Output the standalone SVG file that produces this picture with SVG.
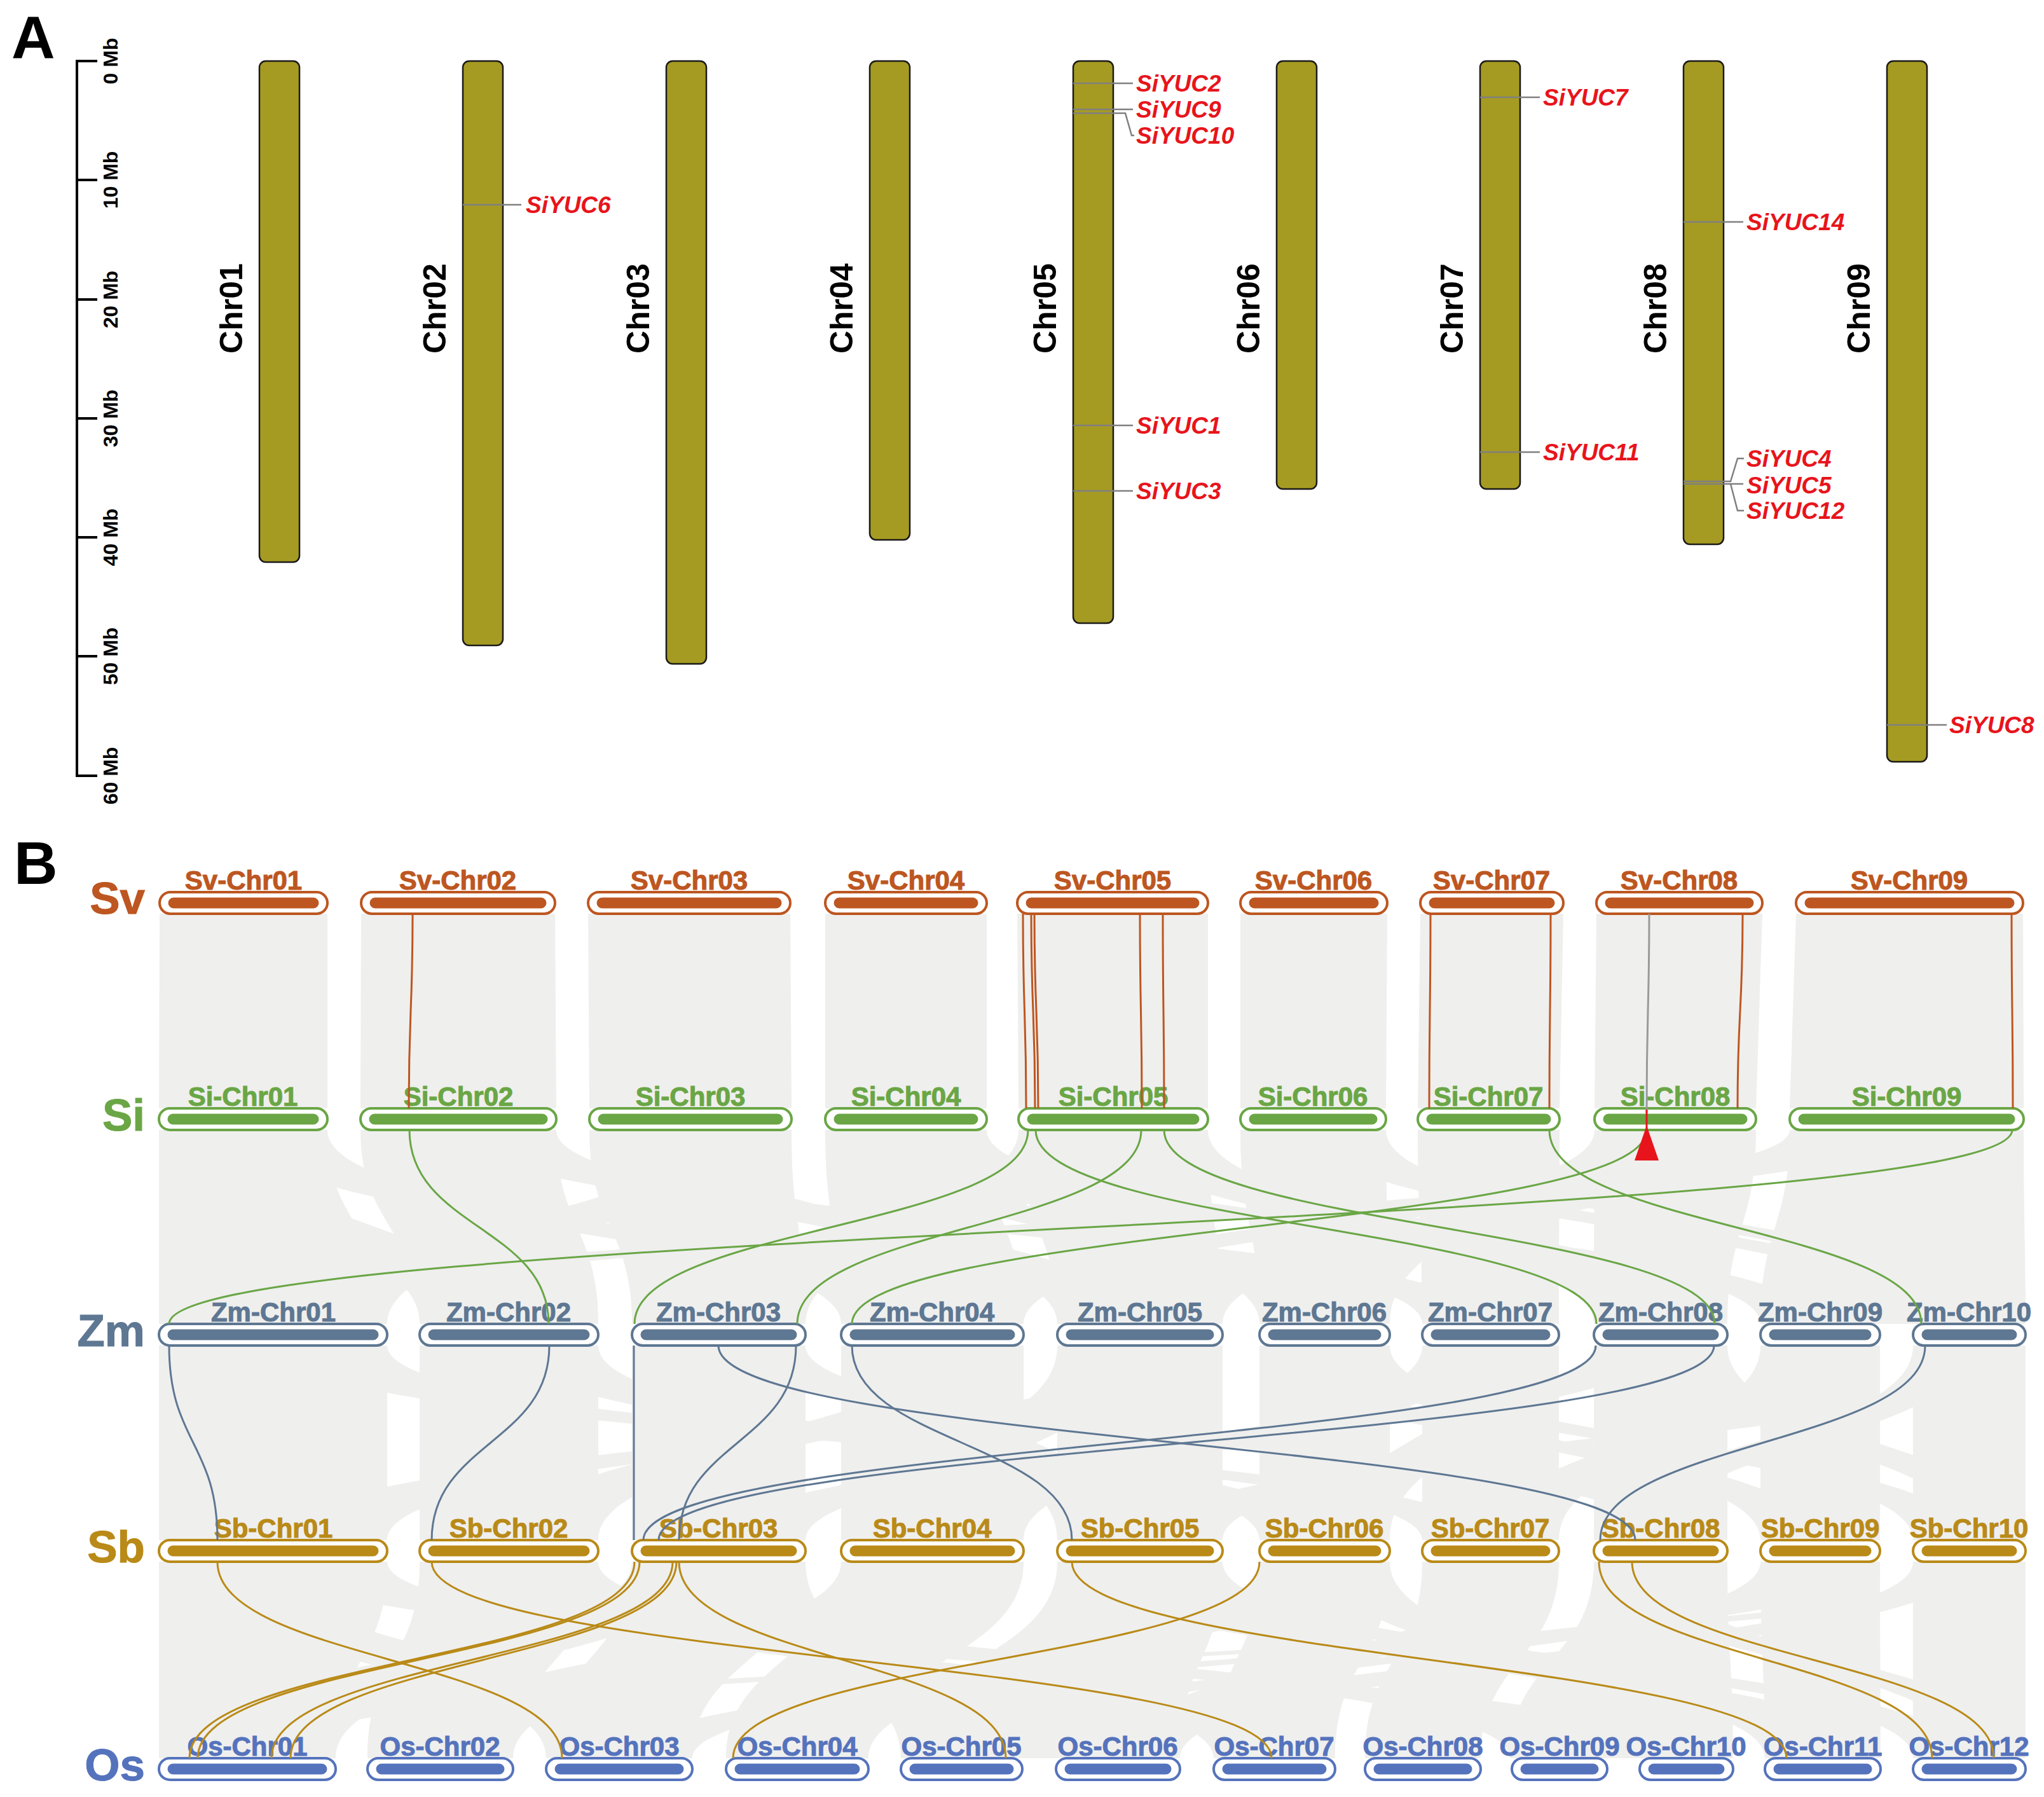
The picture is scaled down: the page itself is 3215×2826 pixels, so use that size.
<svg xmlns="http://www.w3.org/2000/svg" width="3215" height="2826" viewBox="0 0 3215 2826">
<style>
text{font-family:"Liberation Sans",Arial,sans-serif;font-weight:bold}
.panel{font-size:95px;fill:#000}
.mb{font-size:32px;fill:#000}
.chrlab{font-size:50px;fill:#000}
.chrA{fill:#A69B22;stroke:#1a1a1a;stroke-width:2.5}
.gl{stroke:#7f7f7f;stroke-width:2.5;fill:none}
.gene{font-size:37px;font-style:italic;fill:#E8141B}
.axis{stroke:#000;stroke-width:4;fill:none}
.rib{fill:#EFEFEE;stroke:none}
.row{font-size:71px}
.cl{font-size:42px;text-anchor:middle}
.cap{fill:#fff;stroke-width:4}
.ln{fill:none;stroke-width:3}
.sv{fill:#BD5620;stroke:#BD5620}
.si{fill:#6AA645;stroke:#6AA645}
.zm{fill:#5E7792;stroke:#5E7792}
.sb{fill:#B98A17;stroke:#B98A17}
.os{fill:#5573BC;stroke:#5573BC}
.lsv{stroke:#BD5620}.lsi{stroke:#6AA645}.lzm{stroke:#5E7792}.lsb{stroke:#B98A17}
</style>
<rect width="3215" height="2826" fill="#fff"/>

<!-- Panel A -->
<text class="panel" x="18" y="92">A</text>
<g id="scale">
<path class="axis" d="M153 96 H121 V1220 H153 M121 283 H153 M121 471 H153 M121 658 H153 M121 845 H153 M121 1032 H153"/>
<text class="mb" text-anchor="middle" transform="rotate(-90 185 96)" x="185" y="96">0 Mb</text>
<text class="mb" text-anchor="middle" transform="rotate(-90 185 283)" x="185" y="283">10 Mb</text>
<text class="mb" text-anchor="middle" transform="rotate(-90 185 471)" x="185" y="471">20 Mb</text>
<text class="mb" text-anchor="middle" transform="rotate(-90 185 658)" x="185" y="658">30 Mb</text>
<text class="mb" text-anchor="middle" transform="rotate(-90 185 845)" x="185" y="845">40 Mb</text>
<text class="mb" text-anchor="middle" transform="rotate(-90 185 1032)" x="185" y="1032">50 Mb</text>
<text class="mb" text-anchor="middle" transform="rotate(-90 185 1220)" x="185" y="1220">60 Mb</text>
</g>
<g id="A-Chr01"><rect class="chrA" x="408" y="96" width="63" height="788" rx="10"/><text class="chrlab" text-anchor="middle" transform="rotate(-90 381 485)" x="381" y="485">Chr01</text></g>
<g id="A-Chr02"><rect class="chrA" x="728" y="96" width="63" height="919" rx="10"/><text class="chrlab" text-anchor="middle" transform="rotate(-90 701 485)" x="701" y="485">Chr02</text>
<path class="gl" d="M728 322 H820"/><text class="gene" x="827" y="335">SiYUC6</text></g>
<g id="A-Chr03"><rect class="chrA" x="1048" y="96" width="63" height="948" rx="10"/><text class="chrlab" text-anchor="middle" transform="rotate(-90 1021 485)" x="1021" y="485">Chr03</text></g>
<g id="A-Chr04"><rect class="chrA" x="1368" y="96" width="63" height="753" rx="10"/><text class="chrlab" text-anchor="middle" transform="rotate(-90 1341 485)" x="1341" y="485">Chr04</text></g>
<g id="A-Chr05"><rect class="chrA" x="1688" y="96" width="63" height="884" rx="10"/><text class="chrlab" text-anchor="middle" transform="rotate(-90 1661 485)" x="1661" y="485">Chr05</text>
<path class="gl" d="M1688 131 H1782 M1688 172 H1782 M1688 178 H1770 L1780 213 H1784 M1688 669 H1782 M1688 772 H1782"/>
<text class="gene" x="1787" y="144">SiYUC2</text>
<text class="gene" x="1787" y="185">SiYUC9</text>
<text class="gene" x="1787" y="226">SiYUC10</text>
<text class="gene" x="1787" y="682">SiYUC1</text>
<text class="gene" x="1787" y="785">SiYUC3</text></g>
<g id="A-Chr06"><rect class="chrA" x="2008" y="96" width="63" height="673" rx="10"/><text class="chrlab" text-anchor="middle" transform="rotate(-90 1981 485)" x="1981" y="485">Chr06</text></g>
<g id="A-Chr07"><rect class="chrA" x="2328" y="96" width="63" height="673" rx="10"/><text class="chrlab" text-anchor="middle" transform="rotate(-90 2301 485)" x="2301" y="485">Chr07</text>
<path class="gl" d="M2328 153 H2422 M2328 711 H2422"/>
<text class="gene" x="2427" y="166">SiYUC7</text>
<text class="gene" x="2427" y="724">SiYUC11</text></g>
<g id="A-Chr08"><rect class="chrA" x="2648" y="96" width="63" height="760" rx="10"/><text class="chrlab" text-anchor="middle" transform="rotate(-90 2621 485)" x="2621" y="485">Chr08</text>
<path class="gl" d="M2648 349 H2742 M2648 757 H2722 L2733 721 H2743 M2648 761 H2742 M2722 761 L2733 803 H2743"/>
<text class="gene" x="2747" y="362">SiYUC14</text>
<text class="gene" x="2747" y="734">SiYUC4</text>
<text class="gene" x="2747" y="776">SiYUC5</text>
<text class="gene" x="2747" y="816">SiYUC12</text></g>
<g id="A-Chr09"><rect class="chrA" x="2968" y="96" width="63" height="1102" rx="10"/><text class="chrlab" text-anchor="middle" transform="rotate(-90 2941 485)" x="2941" y="485">Chr09</text>
<path class="gl" d="M2968 1140 H3062"/><text class="gene" x="3066" y="1153">SiYUC8</text></g>

<!-- Panel B -->
<text class="panel" x="22" y="1390">B</text>

<g id="ribbons">
<!-- Sv-Si -->
<path class="rib" d="M251 1437 H515 L515 1743 H250 Z M568 1437 H873 L875 1743 H567 Z M925 1437 H1243 L1245 1743 H927 Z M1298 1437 H1552 V1743 H1298 Z M1600 1437 H1900 V1743 H1602 Z M1951 1437 H2182 L2180 1743 H1951 Z M2234 1437 H2459 L2453 1743 H2230 Z M2511 1437 H2772 L2762 1743 H2508 Z M2825 1437 H3182 L3183 1743 H2815 Z"/>
<!-- Si-Zm columns -->
<path class="rib" d="M250 1777 L515 1777 C515 1930 609 1930 609 2082 L250 2082 C250 1930 250 1930 250 1777Z"/>
<path class="rib" d="M567 1777 L875 1777 C875 1930 941 1930 941 2082 L660 2082 C660 1930 567 1930 567 1777Z"/>
<path class="rib" d="M927 1777 L1245 1777 C1245 1930 1267 1930 1267 2082 L994 2082 C994 1930 927 1930 927 1777Z"/>
<path class="rib" d="M1298 1777 L1552 1777 C1552 1930 1610 1930 1610 2082 L1323 2082 C1323 1930 1298 1930 1298 1777Z"/>
<path class="rib" d="M1602 1777 L1900 1777 C1900 1930 1923 1930 1923 2082 L1663 2082 C1663 1930 1602 1930 1602 1777Z"/>
<path class="rib" d="M1951 1777 L2180 1777 C2180 1930 2186 1930 2186 2082 L1981 2082 C1981 1930 1951 1930 1951 1777Z"/>
<path class="rib" d="M2230 1777 L2453 1777 C2453 1930 2452 1930 2452 2082 L2237 2082 C2237 1930 2230 1930 2230 1777Z"/>
<path class="rib" d="M2508 1777 L2762 1777 C2762 1930 2717 1930 2717 2082 L2507 2082 C2507 1930 2508 1930 2508 1777Z"/>
<path class="rib" d="M2815 1777 L3183 1777 C3183 1930 3186 1930 3186 2082 L2769 2082 C2769 1930 2815 1930 2815 1777Z"/>
<!-- Si-Zm crossing -->
<path class="rib" d="M250 1777 L382 1777 C382 1930 800 1930 800 2082 L660 2082 C660 1930 250 1930 250 1777Z"/>
<path class="rib" d="M382 1777 L515 1777 C515 1930 1466 1930 1466 2082 L1323 2082 C1323 1930 382 1930 382 1777Z"/>
<path class="rib" d="M721 1777 L875 1777 C875 1930 2344 1930 2344 2082 L2237 2082 C2237 1930 721 1930 721 1777Z"/>
<path class="rib" d="M927 1777 L1086 1777 C1086 1930 1793 1930 1793 2082 L1663 2082 C1663 1930 927 1930 927 1777Z"/>
<path class="rib" d="M1086 1777 L1245 1777 C1245 1930 609 1930 609 2082 L430 2082 C430 1930 1086 1930 1086 1777Z"/>
<path class="rib" d="M1298 1777 L1425 1777 C1425 1930 2083 1930 2083 2082 L1981 2082 C1981 1930 1298 1930 1298 1777Z"/>
<path class="rib" d="M1425 1777 L1552 1777 C1552 1930 2863 1930 2863 2082 L2769 2082 C2769 1930 1425 1930 1425 1777Z"/>
<path class="rib" d="M1602 1777 L1751 1777 C1751 1930 1267 1930 1267 2082 L994 2082 C994 1930 1602 1930 1602 1777Z"/>
<path class="rib" d="M1751 1777 L1900 1777 C1900 1930 2717 1930 2717 2082 L2507 2082 C2507 1930 1751 1930 1751 1777Z"/>
<path class="rib" d="M1951 1777 L2065 1777 C2065 1930 2452 1930 2452 2082 L2344 2082 C2344 1930 1951 1930 1951 1777Z"/>
<path class="rib" d="M2065 1777 L2180 1777 C2180 1930 3097 1930 3097 2082 L3009 2082 C3009 1930 2065 1930 2065 1777Z"/>
<path class="rib" d="M2230 1777 L2341 1777 C2341 1930 3186 1930 3186 2082 L3097 2082 C3097 1930 2230 1930 2230 1777Z"/>
<path class="rib" d="M2341 1777 L2453 1777 C2453 1930 2186 1930 2186 2082 L2083 2082 C2083 1930 2341 1930 2341 1777Z"/>
<path class="rib" d="M2508 1777 L2635 1777 C2635 1930 1610 1930 1610 2082 L1466 2082 C1466 1930 2508 1930 2508 1777Z"/>
<path class="rib" d="M2635 1777 L2762 1777 C2762 1930 1923 1930 1923 2082 L1793 2082 C1793 1930 2635 1930 2635 1777Z"/>
<path class="rib" d="M2815 1777 L2999 1777 C2999 1930 430 1930 430 2082 L250 2082 C250 1930 2815 1930 2815 1777Z"/>
<!-- Zm-Sb columns -->
<path class="rib" d="M250 2116 H609 V2422 H250 Z M660 2116 H941 V2422 H660 Z M994 2116 H1267 V2422 H994 Z M1323 2116 H1610 V2422 H1323 Z M1663 2116 H1923 V2422 H1663 Z M1981 2116 H2186 V2422 H1981 Z M2237 2116 H2452 V2422 H2237 Z M2507 2116 H2717 V2422 H2507 Z M2769 2116 H2957 V2422 H2769 Z M3009 2116 H3186 V2422 H3009 Z"/>
<!-- Zm-Sb crossing -->
<path class="rib" d="M430 2116 L609 2116 C609 2269 2344 2269 2344 2422 L2237 2422 C2237 2269 430 2269 430 2116Z"/>
<path class="rib" d="M800 2116 L941 2116 C941 2269 2083 2269 2083 2422 L1981 2422 C1981 2269 800 2269 800 2116Z"/>
<path class="rib" d="M1130 2116 L1267 2116 C1267 2269 2717 2269 2717 2422 L2612 2422 C2612 2269 1130 2269 1130 2116Z"/>
<path class="rib" d="M1323 2116 L1466 2116 C1466 2269 1793 2269 1793 2422 L1663 2422 C1663 2269 1323 2269 1323 2116Z"/>
<path class="rib" d="M1466 2116 L1610 2116 C1610 2269 941 2269 941 2422 L800 2422 C800 2269 1466 2269 1466 2116Z"/>
<path class="rib" d="M1663 2116 L1793 2116 C1793 2269 1466 2269 1466 2422 L1323 2422 C1323 2269 1663 2269 1663 2116Z"/>
<path class="rib" d="M1793 2116 L1923 2116 C1923 2269 609 2269 609 2422 L430 2422 C430 2269 1793 2269 1793 2116Z"/>
<path class="rib" d="M1981 2116 L2083 2116 C2083 2269 2863 2269 2863 2422 L2769 2422 C2769 2269 1981 2269 1981 2116Z"/>
<path class="rib" d="M2083 2116 L2186 2116 C2186 2269 3097 2269 3097 2422 L3009 2422 C3009 2269 2083 2269 2083 2116Z"/>
<path class="rib" d="M2237 2116 L2344 2116 C2344 2269 1610 2269 1610 2422 L1466 2422 C1466 2269 2237 2269 2237 2116Z"/>
<path class="rib" d="M2344 2116 L2452 2116 C2452 2269 2186 2269 2186 2422 L2083 2422 C2083 2269 2344 2269 2344 2116Z"/>
<path class="rib" d="M2507 2116 L2612 2116 C2612 2269 1267 2269 1267 2422 L1130 2422 C1130 2269 2507 2269 2507 2116Z"/>
<path class="rib" d="M2612 2116 L2717 2116 C2717 2269 3186 2269 3186 2422 L3097 2422 C3097 2269 2612 2269 2612 2116Z"/>
<path class="rib" d="M2769 2116 L2863 2116 C2863 2269 2452 2269 2452 2422 L2344 2422 C2344 2269 2769 2269 2769 2116Z"/>
<path class="rib" d="M3009 2116 L3097 2116 C3097 2269 2612 2269 2612 2422 L2507 2422 C2507 2269 3009 2269 3009 2116Z"/>
<path class="rib" d="M3097 2116 L3186 2116 C3186 2269 1923 2269 1923 2422 L1793 2422 C1793 2269 3097 2269 3097 2116Z"/>
<!-- Sb-Os columns -->
<path class="rib" d="M250 2456 L609 2456 C609 2610 528 2610 528 2765 L250 2765 Z"/>
<path class="rib" d="M660 2456 L941 2456 C941 2610 807 2610 807 2765 L578 2765 C578 2610 660 2610 660 2456Z"/>
<path class="rib" d="M994 2456 L1267 2456 C1267 2610 1089 2610 1089 2765 L859 2765 C859 2610 994 2610 994 2456Z"/>
<path class="rib" d="M1323 2456 L1610 2456 C1610 2610 1366 2610 1366 2765 L1142 2765 C1142 2610 1323 2610 1323 2456Z"/>
<path class="rib" d="M1663 2456 L1923 2456 C1923 2610 1856 2610 1856 2765 L1417 2765 C1417 2610 1663 2610 1663 2456Z"/>
<path class="rib" d="M1981 2456 L2186 2456 C2186 2610 2100 2610 2100 2765 L1909 2765 C1909 2610 1981 2610 1981 2456Z"/>
<path class="rib" d="M2237 2456 L2452 2456 C2452 2610 2329 2610 2329 2765 L2147 2765 C2147 2610 2237 2610 2237 2456Z"/>
<path class="rib" d="M2507 2456 L2717 2456 C2717 2610 2726 2610 2726 2765 L2375 2765 C2375 2610 2507 2610 2507 2456Z"/>
<path class="rib" d="M2769 2456 L2957 2456 C2957 2610 2958 2610 2958 2765 L2776 2765 C2776 2610 2769 2610 2769 2456Z"/>
<path class="rib" d="M3009 2456 L3186 2456 L3186 2765 L3009 2765 Z"/>
<!-- Sb-Os crossing -->
<path class="rib" d="M250 2456 L430 2456 C430 2610 1089 2610 1089 2765 L859 2765 C859 2610 250 2610 250 2456Z"/>
<path class="rib" d="M430 2456 L609 2456 C609 2610 2651 2610 2651 2765 L2577 2765 C2577 2610 430 2610 430 2456Z"/>
<path class="rib" d="M660 2456 L800 2456 C800 2610 2100 2610 2100 2765 L1909 2765 C1909 2610 660 2610 660 2456Z"/>
<path class="rib" d="M800 2456 L941 2456 C941 2610 2530 2610 2530 2765 L2375 2765 C2375 2610 800 2610 800 2456Z"/>
<path class="rib" d="M994 2456 L1130 2456 C1130 2610 528 2610 528 2765 L250 2765 C250 2610 994 2610 994 2456Z"/>
<path class="rib" d="M1130 2456 L1267 2456 C1267 2610 1512 2610 1512 2765 L1417 2765 C1417 2610 1130 2610 1130 2456Z"/>
<path class="rib" d="M1323 2456 L1466 2456 C1466 2610 807 2610 807 2765 L578 2765 C578 2610 1323 2610 1323 2456Z"/>
<path class="rib" d="M1663 2456 L1793 2456 C1793 2610 2958 2610 2958 2765 L2776 2765 C2776 2610 1663 2610 1663 2456Z"/>
<path class="rib" d="M1793 2456 L1923 2456 C1923 2610 3097 2610 3097 2765 L3009 2765 C3009 2610 1793 2610 1793 2456Z"/>
<path class="rib" d="M1981 2456 L2083 2456 C2083 2610 1366 2610 1366 2765 L1142 2765 C1142 2610 1981 2610 1981 2456Z"/>
<path class="rib" d="M2083 2456 L2186 2456 C2186 2610 2726 2610 2726 2765 L2651 2765 C2651 2610 2083 2610 2083 2456Z"/>
<path class="rib" d="M2344 2456 L2452 2456 C2452 2610 1856 2610 1856 2765 L1758 2765 C1758 2610 2344 2610 2344 2456Z"/>
<path class="rib" d="M2507 2456 L2612 2456 C2612 2610 3186 2610 3186 2765 L3097 2765 C3097 2610 2507 2610 2507 2456Z"/>
<path class="rib" d="M2769 2456 L2863 2456 C2863 2610 1608 2610 1608 2765 L1512 2765 C1512 2610 2769 2610 2769 2456Z"/>
<path class="rib" d="M2863 2456 L2957 2456 C2957 2610 1089 2610 1089 2765 L974 2765 C974 2610 2863 2610 2863 2456Z"/>
<path class="rib" d="M3009 2456 L3097 2456 C3097 2610 1856 2610 1856 2765 L1661 2765 C1661 2610 3009 2610 3009 2456Z"/>
<path class="rib" d="M3097 2456 L3186 2456 C3186 2610 389 2610 389 2765 L250 2765 C250 2610 3097 2610 3097 2456Z"/>
</g>

<!-- row labels -->
<text class="row sv" x="228" y="1437" text-anchor="end" stroke="none">Sv</text>
<text class="row si" x="228" y="1778" text-anchor="end" stroke="none">Si</text>
<text class="row zm" x="228" y="2117" text-anchor="end" stroke="none">Zm</text>
<text class="row sb" x="228" y="2457" text-anchor="end" stroke="none">Sb</text>
<text class="row os" x="228" y="2800" text-anchor="end" stroke="none">Os</text>

<!-- Sv chromosomes (center y 1420) -->
<g id="Sv-Chr01"><rect class="cap sv" x="251" y="1403" width="264" height="34" rx="17" style="fill:#fff"/><rect class="sv" x="265" y="1412" width="236" height="16" rx="8" stroke="none"/><text class="cl sv" x="383" y="1399" stroke="none">Sv-Chr01</text></g>
<g id="Sv-Chr02"><rect class="cap sv" x="568" y="1403" width="305" height="34" rx="17" style="fill:#fff"/><rect class="sv" x="582" y="1412" width="277" height="16" rx="8" stroke="none"/><text class="cl sv" x="720" y="1399" stroke="none">Sv-Chr02</text></g>
<g id="Sv-Chr03"><rect class="cap sv" x="925" y="1403" width="318" height="34" rx="17" style="fill:#fff"/><rect class="sv" x="939" y="1412" width="290" height="16" rx="8" stroke="none"/><text class="cl sv" x="1084" y="1399" stroke="none">Sv-Chr03</text></g>
<g id="Sv-Chr04"><rect class="cap sv" x="1298" y="1403" width="254" height="34" rx="17" style="fill:#fff"/><rect class="sv" x="1312" y="1412" width="226" height="16" rx="8" stroke="none"/><text class="cl sv" x="1425" y="1399" stroke="none">Sv-Chr04</text></g>
<g id="Sv-Chr05"><rect class="cap sv" x="1600" y="1403" width="300" height="34" rx="17" style="fill:#fff"/><rect class="sv" x="1614" y="1412" width="272" height="16" rx="8" stroke="none"/><text class="cl sv" x="1750" y="1399" stroke="none">Sv-Chr05</text></g>
<g id="Sv-Chr06"><rect class="cap sv" x="1951" y="1403" width="231" height="34" rx="17" style="fill:#fff"/><rect class="sv" x="1965" y="1412" width="203" height="16" rx="8" stroke="none"/><text class="cl sv" x="2066" y="1399" stroke="none">Sv-Chr06</text></g>
<g id="Sv-Chr07"><rect class="cap sv" x="2234" y="1403" width="225" height="34" rx="17" style="fill:#fff"/><rect class="sv" x="2248" y="1412" width="197" height="16" rx="8" stroke="none"/><text class="cl sv" x="2346" y="1399" stroke="none">Sv-Chr07</text></g>
<g id="Sv-Chr08"><rect class="cap sv" x="2511" y="1403" width="261" height="34" rx="17" style="fill:#fff"/><rect class="sv" x="2525" y="1412" width="233" height="16" rx="8" stroke="none"/><text class="cl sv" x="2641" y="1399" stroke="none">Sv-Chr08</text></g>
<g id="Sv-Chr09"><rect class="cap sv" x="2825" y="1403" width="357" height="34" rx="17" style="fill:#fff"/><rect class="sv" x="2839" y="1412" width="329" height="16" rx="8" stroke="none"/><text class="cl sv" x="3003" y="1399" stroke="none">Sv-Chr09</text></g>

<!-- Si chromosomes (center y 1760) -->
<g id="Si-Chr01"><rect class="cap si" x="250" y="1743" width="265" height="34" rx="17" style="fill:#fff"/><rect class="si" x="264" y="1752" width="237" height="16" rx="8" stroke="none"/><text class="cl si" x="382" y="1739" stroke="none">Si-Chr01</text></g>
<g id="Si-Chr02"><rect class="cap si" x="567" y="1743" width="308" height="34" rx="17" style="fill:#fff"/><rect class="si" x="581" y="1752" width="280" height="16" rx="8" stroke="none"/><text class="cl si" x="721" y="1739" stroke="none">Si-Chr02</text></g>
<g id="Si-Chr03"><rect class="cap si" x="927" y="1743" width="318" height="34" rx="17" style="fill:#fff"/><rect class="si" x="941" y="1752" width="290" height="16" rx="8" stroke="none"/><text class="cl si" x="1086" y="1739" stroke="none">Si-Chr03</text></g>
<g id="Si-Chr04"><rect class="cap si" x="1298" y="1743" width="254" height="34" rx="17" style="fill:#fff"/><rect class="si" x="1312" y="1752" width="226" height="16" rx="8" stroke="none"/><text class="cl si" x="1425" y="1739" stroke="none">Si-Chr04</text></g>
<g id="Si-Chr05"><rect class="cap si" x="1602" y="1743" width="298" height="34" rx="17" style="fill:#fff"/><rect class="si" x="1616" y="1752" width="270" height="16" rx="8" stroke="none"/><text class="cl si" x="1751" y="1739" stroke="none">Si-Chr05</text></g>
<g id="Si-Chr06"><rect class="cap si" x="1951" y="1743" width="229" height="34" rx="17" style="fill:#fff"/><rect class="si" x="1965" y="1752" width="201" height="16" rx="8" stroke="none"/><text class="cl si" x="2065" y="1739" stroke="none">Si-Chr06</text></g>
<g id="Si-Chr07"><rect class="cap si" x="2230" y="1743" width="223" height="34" rx="17" style="fill:#fff"/><rect class="si" x="2244" y="1752" width="195" height="16" rx="8" stroke="none"/><text class="cl si" x="2341" y="1739" stroke="none">Si-Chr07</text></g>
<g id="Si-Chr08"><rect class="cap si" x="2508" y="1743" width="254" height="34" rx="17" style="fill:#fff"/><rect class="si" x="2522" y="1752" width="226" height="16" rx="8" stroke="none"/><text class="cl si" x="2635" y="1739" stroke="none">Si-Chr08</text></g>
<g id="Si-Chr09"><rect class="cap si" x="2815" y="1743" width="368" height="34" rx="17" style="fill:#fff"/><rect class="si" x="2829" y="1752" width="340" height="16" rx="8" stroke="none"/><text class="cl si" x="2999" y="1739" stroke="none">Si-Chr09</text></g>

<!-- Zm chromosomes (center y 2099) -->
<g id="Zm-Chr01"><rect class="cap zm" x="250" y="2082" width="359" height="34" rx="17" style="fill:#fff"/><rect class="zm" x="264" y="2091" width="331" height="16" rx="8" stroke="none"/><text class="cl zm" x="430" y="2078" stroke="none">Zm-Chr01</text></g>
<g id="Zm-Chr02"><rect class="cap zm" x="660" y="2082" width="281" height="34" rx="17" style="fill:#fff"/><rect class="zm" x="674" y="2091" width="253" height="16" rx="8" stroke="none"/><text class="cl zm" x="800" y="2078" stroke="none">Zm-Chr02</text></g>
<g id="Zm-Chr03"><rect class="cap zm" x="994" y="2082" width="273" height="34" rx="17" style="fill:#fff"/><rect class="zm" x="1008" y="2091" width="245" height="16" rx="8" stroke="none"/><text class="cl zm" x="1130" y="2078" stroke="none">Zm-Chr03</text></g>
<g id="Zm-Chr04"><rect class="cap zm" x="1323" y="2082" width="287" height="34" rx="17" style="fill:#fff"/><rect class="zm" x="1337" y="2091" width="259" height="16" rx="8" stroke="none"/><text class="cl zm" x="1466" y="2078" stroke="none">Zm-Chr04</text></g>
<g id="Zm-Chr05"><rect class="cap zm" x="1663" y="2082" width="260" height="34" rx="17" style="fill:#fff"/><rect class="zm" x="1677" y="2091" width="232" height="16" rx="8" stroke="none"/><text class="cl zm" x="1793" y="2078" stroke="none">Zm-Chr05</text></g>
<g id="Zm-Chr06"><rect class="cap zm" x="1981" y="2082" width="205" height="34" rx="17" style="fill:#fff"/><rect class="zm" x="1995" y="2091" width="177" height="16" rx="8" stroke="none"/><text class="cl zm" x="2083" y="2078" stroke="none">Zm-Chr06</text></g>
<g id="Zm-Chr07"><rect class="cap zm" x="2237" y="2082" width="215" height="34" rx="17" style="fill:#fff"/><rect class="zm" x="2251" y="2091" width="187" height="16" rx="8" stroke="none"/><text class="cl zm" x="2344" y="2078" stroke="none">Zm-Chr07</text></g>
<g id="Zm-Chr08"><rect class="cap zm" x="2507" y="2082" width="210" height="34" rx="17" style="fill:#fff"/><rect class="zm" x="2521" y="2091" width="182" height="16" rx="8" stroke="none"/><text class="cl zm" x="2612" y="2078" stroke="none">Zm-Chr08</text></g>
<g id="Zm-Chr09"><rect class="cap zm" x="2769" y="2082" width="188" height="34" rx="17" style="fill:#fff"/><rect class="zm" x="2783" y="2091" width="160" height="16" rx="8" stroke="none"/><text class="cl zm" x="2863" y="2078" stroke="none">Zm-Chr09</text></g>
<g id="Zm-Chr10"><rect class="cap zm" x="3009" y="2082" width="177" height="34" rx="17" style="fill:#fff"/><rect class="zm" x="3023" y="2091" width="149" height="16" rx="8" stroke="none"/><text class="cl zm" x="3097" y="2078" stroke="none">Zm-Chr10</text></g>

<!-- Sb chromosomes (center y 2439) -->
<g id="Sb-Chr01"><rect class="cap sb" x="250" y="2422" width="359" height="34" rx="17" style="fill:#fff"/><rect class="sb" x="264" y="2431" width="331" height="16" rx="8" stroke="none"/><text class="cl sb" x="430" y="2418" stroke="none">Sb-Chr01</text></g>
<g id="Sb-Chr02"><rect class="cap sb" x="660" y="2422" width="281" height="34" rx="17" style="fill:#fff"/><rect class="sb" x="674" y="2431" width="253" height="16" rx="8" stroke="none"/><text class="cl sb" x="800" y="2418" stroke="none">Sb-Chr02</text></g>
<g id="Sb-Chr03"><rect class="cap sb" x="994" y="2422" width="273" height="34" rx="17" style="fill:#fff"/><rect class="sb" x="1008" y="2431" width="245" height="16" rx="8" stroke="none"/><text class="cl sb" x="1130" y="2418" stroke="none">Sb-Chr03</text></g>
<g id="Sb-Chr04"><rect class="cap sb" x="1323" y="2422" width="287" height="34" rx="17" style="fill:#fff"/><rect class="sb" x="1337" y="2431" width="259" height="16" rx="8" stroke="none"/><text class="cl sb" x="1466" y="2418" stroke="none">Sb-Chr04</text></g>
<g id="Sb-Chr05"><rect class="cap sb" x="1663" y="2422" width="260" height="34" rx="17" style="fill:#fff"/><rect class="sb" x="1677" y="2431" width="232" height="16" rx="8" stroke="none"/><text class="cl sb" x="1793" y="2418" stroke="none">Sb-Chr05</text></g>
<g id="Sb-Chr06"><rect class="cap sb" x="1981" y="2422" width="205" height="34" rx="17" style="fill:#fff"/><rect class="sb" x="1995" y="2431" width="177" height="16" rx="8" stroke="none"/><text class="cl sb" x="2083" y="2418" stroke="none">Sb-Chr06</text></g>
<g id="Sb-Chr07"><rect class="cap sb" x="2237" y="2422" width="215" height="34" rx="17" style="fill:#fff"/><rect class="sb" x="2251" y="2431" width="187" height="16" rx="8" stroke="none"/><text class="cl sb" x="2344" y="2418" stroke="none">Sb-Chr07</text></g>
<g id="Sb-Chr08"><rect class="cap sb" x="2507" y="2422" width="210" height="34" rx="17" style="fill:#fff"/><rect class="sb" x="2521" y="2431" width="182" height="16" rx="8" stroke="none"/><text class="cl sb" x="2612" y="2418" stroke="none">Sb-Chr08</text></g>
<g id="Sb-Chr09"><rect class="cap sb" x="2769" y="2422" width="188" height="34" rx="17" style="fill:#fff"/><rect class="sb" x="2783" y="2431" width="160" height="16" rx="8" stroke="none"/><text class="cl sb" x="2863" y="2418" stroke="none">Sb-Chr09</text></g>
<g id="Sb-Chr10"><rect class="cap sb" x="3009" y="2422" width="177" height="34" rx="17" style="fill:#fff"/><rect class="sb" x="3023" y="2431" width="149" height="16" rx="8" stroke="none"/><text class="cl sb" x="3097" y="2418" stroke="none">Sb-Chr10</text></g>

<!-- Os chromosomes (center y 2782) -->
<g id="Os-Chr01"><rect class="cap os" x="250" y="2765" width="278" height="34" rx="17" style="fill:#fff"/><rect class="os" x="264" y="2774" width="250" height="16" rx="8" stroke="none"/><text class="cl os" x="389" y="2761" stroke="none">Os-Chr01</text></g>
<g id="Os-Chr02"><rect class="cap os" x="578" y="2765" width="229" height="34" rx="17" style="fill:#fff"/><rect class="os" x="592" y="2774" width="201" height="16" rx="8" stroke="none"/><text class="cl os" x="692" y="2761" stroke="none">Os-Chr02</text></g>
<g id="Os-Chr03"><rect class="cap os" x="859" y="2765" width="230" height="34" rx="17" style="fill:#fff"/><rect class="os" x="873" y="2774" width="202" height="16" rx="8" stroke="none"/><text class="cl os" x="974" y="2761" stroke="none">Os-Chr03</text></g>
<g id="Os-Chr04"><rect class="cap os" x="1142" y="2765" width="224" height="34" rx="17" style="fill:#fff"/><rect class="os" x="1156" y="2774" width="196" height="16" rx="8" stroke="none"/><text class="cl os" x="1254" y="2761" stroke="none">Os-Chr04</text></g>
<g id="Os-Chr05"><rect class="cap os" x="1417" y="2765" width="191" height="34" rx="17" style="fill:#fff"/><rect class="os" x="1431" y="2774" width="163" height="16" rx="8" stroke="none"/><text class="cl os" x="1512" y="2761" stroke="none">Os-Chr05</text></g>
<g id="Os-Chr06"><rect class="cap os" x="1661" y="2765" width="195" height="34" rx="17" style="fill:#fff"/><rect class="os" x="1675" y="2774" width="167" height="16" rx="8" stroke="none"/><text class="cl os" x="1758" y="2761" stroke="none">Os-Chr06</text></g>
<g id="Os-Chr07"><rect class="cap os" x="1909" y="2765" width="191" height="34" rx="17" style="fill:#fff"/><rect class="os" x="1923" y="2774" width="163" height="16" rx="8" stroke="none"/><text class="cl os" x="2004" y="2761" stroke="none">Os-Chr07</text></g>
<g id="Os-Chr08"><rect class="cap os" x="2147" y="2765" width="182" height="34" rx="17" style="fill:#fff"/><rect class="os" x="2161" y="2774" width="154" height="16" rx="8" stroke="none"/><text class="cl os" x="2238" y="2761" stroke="none">Os-Chr08</text></g>
<g id="Os-Chr09"><rect class="cap os" x="2378" y="2765" width="150" height="34" rx="17" style="fill:#fff"/><rect class="os" x="2392" y="2774" width="122" height="16" rx="8" stroke="none"/><text class="cl os" x="2453" y="2761" stroke="none">Os-Chr09</text></g>
<g id="Os-Chr10"><rect class="cap os" x="2579" y="2765" width="147" height="34" rx="17" style="fill:#fff"/><rect class="os" x="2593" y="2774" width="119" height="16" rx="8" stroke="none"/><text class="cl os" x="2652" y="2761" stroke="none">Os-Chr10</text></g>
<g id="Os-Chr11"><rect class="cap os" x="2776" y="2765" width="182" height="34" rx="17" style="fill:#fff"/><rect class="os" x="2790" y="2774" width="154" height="16" rx="8" stroke="none"/><text class="cl os" x="2867" y="2761" stroke="none">Os-Chr11</text></g>
<g id="Os-Chr12"><rect class="cap os" x="3009" y="2765" width="177" height="34" rx="17" style="fill:#fff"/><rect class="os" x="3023" y="2774" width="149" height="16" rx="8" stroke="none"/><text class="cl os" x="3097" y="2761" stroke="none">Os-Chr12</text></g>

<g id="connectors">
<!-- Sv-Si -->
<path class="ln lsv" d="M649 1437 C649 1590 643 1590 643 1743"/>
<path class="ln lsv" d="M1609 1437 C1609 1590 1614 1590 1614 1743"/>
<path class="ln lsv" d="M1622 1437 C1622 1590 1628 1590 1628 1743"/>
<path class="ln lsv" d="M1627 1437 C1627 1590 1633 1590 1633 1743"/>
<path class="ln lsv" d="M1793 1437 C1793 1590 1796 1590 1796 1743"/>
<path class="ln lsv" d="M1829 1437 C1829 1590 1831 1590 1831 1743"/>
<path class="ln lsv" d="M2250 1437 C2250 1590 2248 1590 2248 1743"/>
<path class="ln lsv" d="M2439 1437 C2439 1590 2437 1590 2437 1743"/>
<path class="ln lsv" stroke-width="4" d="M2741 1437 C2741 1590 2733 1590 2733 1743"/>
<path class="ln lsv" d="M3164 1437 C3164 1590 3166 1590 3166 1743"/>
<path class="ln" stroke="#9A9A9A" stroke-width="4" d="M2594 1437 C2594 1590 2590 1590 2590 1750"/>
<!-- Si-Zm -->
<path class="ln lsi" d="M644 1777 C644 1930 863 1930 863 2082"/>
<path class="ln lsi" d="M1617 1777 C1617 1930 998 1930 998 2082"/>
<path class="ln lsi" d="M1629 1777 C1629 1930 2511 1930 2511 2082"/>
<path class="ln lsi" d="M1795 1777 C1795 1930 1254 1930 1254 2082"/>
<path class="ln lsi" d="M1831 1777 C1831 1930 2697 1930 2697 2082"/>
<path class="ln lsi" d="M2437 1777 C2437 1930 3022 1930 3022 2082"/>
<path class="ln lsi" d="M2590 1777 C2590 1930 1340 1930 1340 2082"/>
<path class="ln lsi" stroke-width="4" d="M3165 1777 C3165 1930 266 1930 266 2082"/>
<!-- Zm-Sb -->
<path class="ln lzm" d="M266 2116 C266 2269 342 2269 342 2422"/>
<path class="ln lzm" d="M864 2116 C864 2269 679 2269 679 2422"/>
<path class="ln lzm" d="M997 2116 L997 2422"/>
<path class="ln lzm" stroke-width="4" d="M1130 2116 C1130 2269 2572 2269 2572 2422"/>
<path class="ln lzm" d="M1252 2116 C1252 2269 1068 2269 1068 2422"/>
<path class="ln lzm" d="M1340 2116 C1340 2269 1686 2269 1686 2422"/>
<path class="ln lzm" stroke-width="4" d="M2510 2116 C2510 2269 1012 2269 1012 2422"/>
<path class="ln lzm" stroke-width="4" d="M2696 2116 C2696 2269 1036 2269 1036 2422"/>
<path class="ln lzm" d="M3028 2116 C3028 2269 2517 2269 2517 2422"/>
<!-- Sb-Os -->
<path class="ln lsb" d="M342 2456 C342 2610 884 2610 884 2765"/>
<path class="ln lsb" stroke-width="4" d="M679 2456 C679 2610 2000 2610 2000 2765"/>
<path class="ln lsb" stroke-width="3.5" d="M998 2456 C998 2610 298 2610 298 2765"/>
<path class="ln lsb" d="M1006 2456 C1006 2610 311 2610 311 2765"/>
<path class="ln lsb" d="M1058 2456 C1058 2610 427 2610 427 2765"/>
<path class="ln lsb" d="M1064 2456 C1064 2610 457 2610 457 2765"/>
<path class="ln lsb" d="M1068 2456 C1068 2610 1582 2610 1582 2765"/>
<path class="ln lsb" stroke-width="4" d="M1686 2456 C1686 2610 2810 2610 2810 2765"/>
<path class="ln lsb" stroke-width="4" d="M1981 2456 C1981 2610 1153 2610 1153 2765"/>
<path class="ln lsb" d="M2515 2456 C2515 2610 3039 2610 3039 2765"/>
<path class="ln lsb" d="M2567 2456 C2567 2610 3136 2610 3136 2765"/>
<!-- marker on Si-Chr08 -->
<path d="M2590 1745 V1775" stroke="#E8141B" stroke-width="3" fill="none"/>
<path d="M2590 1770 L2609 1825 L2571 1825 Z" fill="#E8141B"/>
</g>
</svg>
